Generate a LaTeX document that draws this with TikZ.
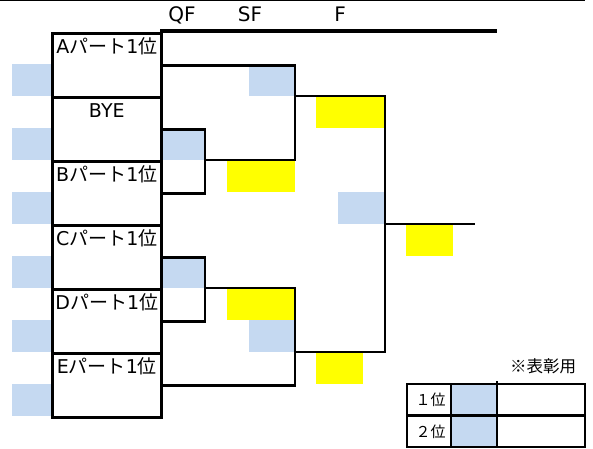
\documentclass[tikz,border=0pt]{standalone}
\usepackage{fontspec}
\setmainfont{DejaVu Sans}
\newfontfamily\jpfont{Noto Sans CJK JP}
\definecolor{seedblue}{RGB}{197,217,241}
\definecolor{markyellow}{RGB}{255,255,0}
\tikzset{
  entry/.style={draw, minimum width=109pt, minimum height=64pt, anchor=north west, inner sep=0pt},
  entrytext/.style={anchor=base, yshift=-21pt, font=\fontsize{19}{19}\selectfont},
  roundhead/.style={anchor=base, font=\fontsize{20}{20}\selectfont},
  seedcell/.style={fill=seedblue},
  wincell/.style={fill=markyellow}
}
\newcommand{\blockname}[1]{#1{\jpfont パート}1{\jpfont 位}}

\begin{document}
\begin{tikzpicture}[x=1pt, y=-1pt, line width=2.6pt, line join=miter]
			\useasboundingbox (0,0) rectangle (593,448);

			\draw[line width=0.8pt] (0,0.5) -- (585,0.5); % sheet edge

			\foreach \y in {64,128,...,384}
				\fill[seedcell] (12,\y) rectangle ++(39,32); % seed cells
			\fill[seedcell] (160,128) rectangle (205,160);
			\fill[seedcell] (160,256) rectangle (205,288);
			\fill[seedcell] (249,64) rectangle (295,96);
			\fill[seedcell] (249,320) rectangle (295,352);
			\fill[seedcell] (338,192) rectangle (385,224);
			\fill[wincell] (227,160) rectangle (295,192);
			\fill[wincell] (227,288) rectangle (295,320);
			\fill[wincell] (316,96) rectangle (385,128);
			\fill[wincell] (316,352) rectangle (363,384);
			\fill[wincell] (406,224) rectangle (453,256);

			\node[roundhead] (QF) at (182,21) {QF};
			\node[roundhead] (SF) at (250,21) {SF};
			\node[roundhead] (F) at (340,21) {F};
			\draw[line width=3.4pt] (160,31) -- (497,31); % header rule

			\node[entry, label={[entrytext]north:\blockname{A}}] (A) at (51,32) {};
			\node[entry, label={[entrytext]north:BYE}] (BYE) at (51,96) {};
			\node[entry, label={[entrytext]north:\blockname{B}}] (B) at (51,160) {};
			\node[entry, label={[entrytext]north:\blockname{C}}] (C) at (51,224) {};
			\node[entry, label={[entrytext]north:\blockname{D}}] (D) at (51,288) {};
			\node[entry, label={[entrytext]north:\blockname{E}}] (E) at (51,352) {};

			\coordinate (q1) at (205,160);
			\coordinate (q2) at (205,288);
			\coordinate (s1) at (295,96);
			\coordinate (s2) at (295,352);
			\coordinate (fin) at (385,224);
			\coordinate (champ) at (475,224);

			\draw (BYE.east) -| (q1) |- (B.east); % QF 1
			\draw (C.east) -| (q2) |- (D.east); % QF 2
			\draw (A.east) -| (s1) |- (q1); % SF 1
			\draw (q2) -| (s2) |- (E.east); % SF 2
			\draw (s1) -| (fin) |- (s2); % F
			\draw (fin) -- (champ);

			\node[anchor=base, font=\jpfont\fontsize{16.5}{16.5}\selectfont] (note) at (543,372) {※表彰用};
			\fill[seedcell] (451,384) rectangle (497,447);
			\draw (407,384) rectangle (585,447);
			\draw (407,415.5) -- (585,415.5);
			\draw (451,384) -- (451,447);
			\draw (497,381) -- (497,447);
			\node[anchor=base east, inner sep=0pt, font=\jpfont\fontsize{15}{15}\selectfont] (first) at (447,405) {１位};
			\node[anchor=base east, inner sep=0pt, font=\jpfont\fontsize{15}{15}\selectfont] (second) at (447,437) {２位};
		\end{tikzpicture}
\end{document}
